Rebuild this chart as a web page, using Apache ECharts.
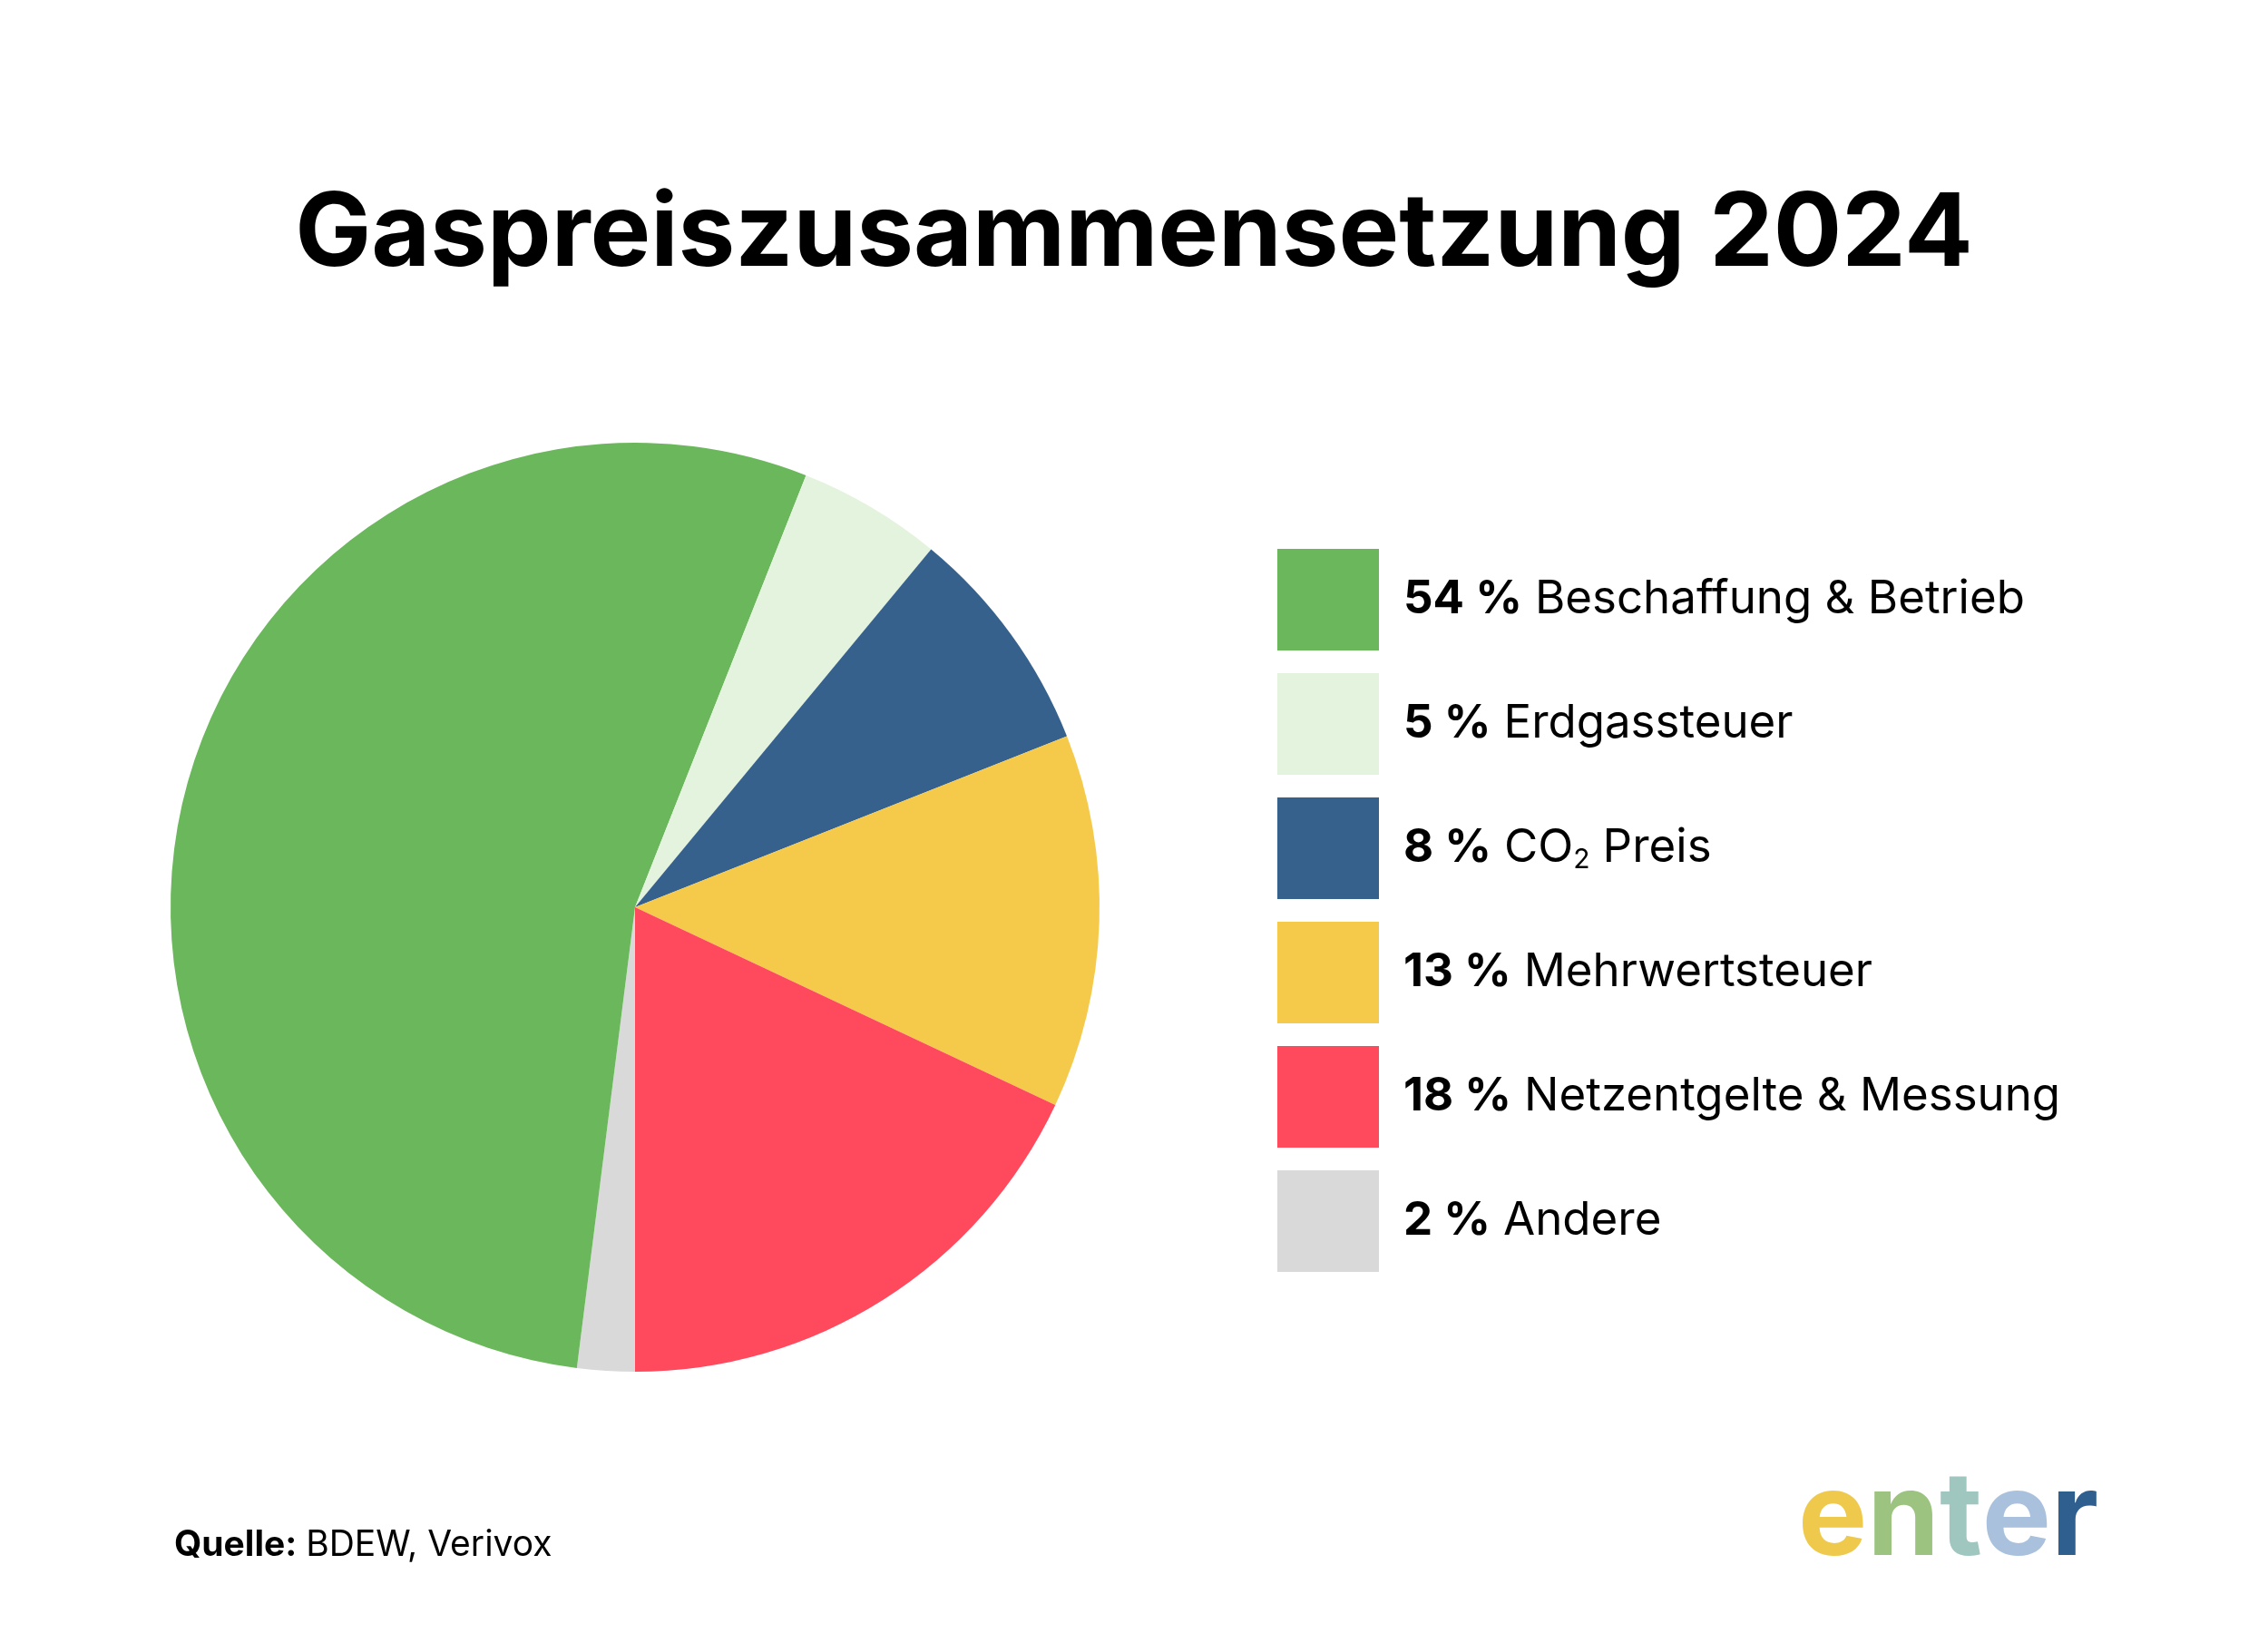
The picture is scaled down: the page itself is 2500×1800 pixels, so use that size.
<!DOCTYPE html>
<html>
<head>
<meta charset="utf-8">
<script src="https://cdn.jsdelivr.net/npm/echarts@6/dist/echarts.min.js"></script>
<style>html,body{margin:0;padding:0;background:#fff}#chart{width:2500px;height:1800px}</style>
</head>
<body>
<div id="chart"></div>
<script>
// Werte in Prozent, Reihenfolge wie in der Legende
const names = ['Beschaffung & Betrieb', 'Erdgassteuer', 'CO2 Preis', 'Mehrwertsteuer', 'Netzentgelte & Messung', 'Andere'];
const values = [54, 5, 8, 13, 18, 2];
const colors = ['#6bb75b', '#e4f3de', '#37618d', '#f5c94a', '#ff4a5e', '#d9d9d9'];
// Reihenfolge im Kreis (im Uhrzeigersinn ab 6 Uhr)
const pieOrder = [5, 0, 1, 2, 3, 4];
// Logo-Buchstaben und Farben
const logoLetters = ['e', 'n', 't', 'e', 'r'];
const logoColors = ['#eec94c', '#9cc480', '#9fc6bf', '#a9c1dc', '#2f5f8f'];

const font = 'Inter, "Noto Sans", sans-serif';
const myChart = echarts.init(document.getElementById('chart'));

const pieData = pieOrder.map((i) => ({
  name: names[i],
  value: values[i],
  itemStyle: { color: colors[i] },
}));

const logoText = logoLetters.map((l, i) => '{l' + i + '|' + l + '}').join('');
const logoRich = {};
logoColors.forEach((c, i) => {
  logoRich['l' + i] = { font: 'bold 128px ' + font, fill: c };
});

const option = {
  backgroundColor: '#fff',
  animation: false,
  title: {
    text: 'Gaspreiszusammensetzung 2024',
    left: 'center',
    top: 198,
    textStyle: { fontFamily: font, fontSize: 112, fontWeight: 'bold', color: '#000' },
  },
  legend: {
    orient: 'vertical',
    left: 1403,
    top: 600,
    itemWidth: 112,
    itemHeight: 112,
    itemGap: 25,
    icon: 'rect',
    data: names,
    formatter: (name) => {
      const v = values[names.indexOf(name)];
      if (name === 'CO2 Preis') {
        return '{b|' + v + ' %}{n|CO}{s|2}{m|Preis}';
      }
      return '{b|' + v + ' %}{n|' + name + '}';
    },
    textStyle: {
      padding: [0, 0, 0, 22],
      rich: {
        b: { fontFamily: font, fontSize: 51, fontWeight: 'bold', color: '#000', padding: [0, 14, 0, 0] },
        n: { fontFamily: font, fontSize: 51, color: '#000' },
        m: { fontFamily: font, fontSize: 51, color: '#000', padding: [0, 0, 0, 14] },
        s: { fontFamily: font, fontSize: 30, color: '#000', verticalAlign: 'bottom', padding: [26, 0, 0, 0] },
      },
    },
  },
  series: [{
    type: 'pie',
    center: [700, 1000],
    radius: [0, 512],
    startAngle: -90,
    clockwise: true,
    label: { show: false },
    labelLine: { show: false },
    emphasis: { disabled: true },
    data: pieData,
  }],
  graphic: [
    {
      type: 'text',
      left: 192,
      top: 1684,
      style: {
        text: '{b|Quelle:}{n|BDEW, Verivox}',
        rich: {
          b: { fontFamily: font, fontSize: 39, fontWeight: 'bold', fill: '#000', padding: [0, 10, 0, 0] },
          n: { fontFamily: font, fontSize: 39, fill: '#000' },
        },
      },
    },
    {
      type: 'text',
      left: 1982,
      top: 1612,
      style: { text: logoText, rich: logoRich },
    },
  ],
};
myChart.setOption(option);
</script>
</body>
</html>
